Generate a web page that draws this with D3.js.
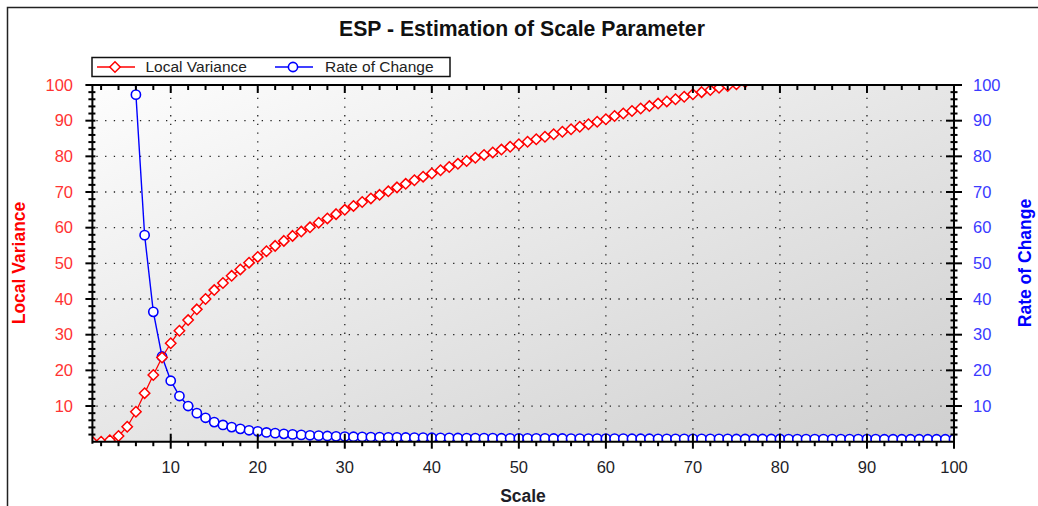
<!DOCTYPE html>
<html>
<head>
<meta charset="utf-8">
<title>ESP - Estimation of Scale Parameter</title>
<script src="https://d3js.org/d3.v7.min.js"></script>
<style>
  body { margin: 0; background: #ffffff; }
  svg { display: block; font-family: Arial, "Liberation Sans", sans-serif; }
</style>
</head>
<body>
<svg id="chart" width="1038" height="506"></svg>
<script>

// scale parameter where each series starts (one point per integer scale)
var varianceStart = 1;
var rocStart = 5;

// Local Variance (red, left axis), scale 1..76
var localVariance = [0, 0, 0.4, 1.6, 4.2, 8.4, 13.6, 18.7, 23.6, 27.6,
    31.1, 34.1, 37.1, 40.0, 42.5, 44.5, 46.5, 48.3, 50.2, 51.8,
    53.4, 54.9, 56.3, 57.7, 58.9, 60.1, 61.4, 62.6, 63.8, 65.0,
    66.1, 67.2, 68.2, 69.2, 70.2, 71.3, 72.3, 73.3, 74.3, 75.2,
    76.1, 77.0, 77.9, 78.7, 79.6, 80.4, 81.1, 81.9, 82.7, 83.4,
    84.1, 84.8, 85.5, 86.2, 86.9, 87.6, 88.3, 89.0, 89.7, 90.4,
    91.3, 92.0, 92.7, 93.4, 94.1, 94.8, 95.4, 96.0, 96.7, 97.4,
    98.0, 98.6, 99.2, 99.7, 100.2, 100.8];

// Rate of Change (blue, right axis), scale 5..100
var rateOfChange = [160, 97.3, 57.9, 36.4, 23.9, 17.1,
    12.8, 10.0, 8.0, 6.7, 5.5, 4.7, 4.1, 3.6, 3.2, 2.9,
    2.6, 2.4, 2.2, 2.05, 1.9, 1.8, 1.7, 1.6, 1.5, 1.45,
    1.4, 1.35, 1.3, 1.27, 1.24, 1.21, 1.18, 1.15, 1.13, 1.11,
    1.09, 1.07, 1.05, 1.03, 1.01, 1.0, 0.99, 0.97, 0.96, 0.95,
    0.94, 0.93, 0.92, 0.91, 0.9, 0.89, 0.88, 0.88, 0.87, 0.86,
    0.85, 0.85, 0.84, 0.83, 0.83, 0.82, 0.81, 0.81, 0.8, 0.8,
    0.79, 0.79, 0.78, 0.78, 0.77, 0.77, 0.76, 0.76, 0.75, 0.75,
    0.74, 0.74, 0.74, 0.73, 0.73, 0.72, 0.72, 0.72, 0.71, 0.71,
    0.71, 0.7, 0.7, 0.7, 0.69, 0.69, 0.69, 0.68, 0.68, 0.68];

var xTicks = [10, 20, 30, 40, 50, 60, 70, 80, 90, 100];
var xMinorTicks = [2, 4, 6, 8, 12, 14, 16, 18, 22, 24, 26, 28, 32, 34, 36, 38, 42, 44, 46, 48,
    52, 54, 56, 58, 62, 64, 66, 68, 72, 74, 76, 78, 82, 84, 86, 88, 92, 94, 96, 98];
var yTicks = [10, 20, 30, 40, 50, 60, 70, 80, 90, 100];
var yMinorTicks = [2, 4, 6, 8, 12, 14, 16, 18, 22, 24, 26, 28, 32, 34, 36, 38, 42, 44, 46, 48,
    52, 54, 56, 58, 62, 64, 66, 68, 72, 74, 76, 78, 82, 84, 86, 88, 92, 94, 96, 98];

var plot = { left: 92.4, right: 954, top: 85, bottom: 441.7 };

var svg = d3.select("#chart");

var x = d3.scaleLinear().domain([1, 100]).range([plot.left, plot.right]);
var yL = d3.scaleLinear().domain([0, 100]).range([plot.bottom, plot.top]);
var yR = d3.scaleLinear().domain([0, 100]).range([plot.bottom, plot.top]);

var varData = localVariance.map(function (v, i) { return { s: varianceStart + i, v: v }; });
var rocData = rateOfChange.map(function (v, i) { return { s: rocStart + i, v: v }; });

// defs: background gradient + clip
var defs = svg.append("defs");
var grad = defs.append("linearGradient").attr("id", "bg")
    .attr("x1", 0).attr("y1", 0).attr("x2", 1).attr("y2", 1);
grad.append("stop").attr("offset", "0%").attr("stop-color", "#fdfdfd");
grad.append("stop").attr("offset", "100%").attr("stop-color", "#cfcfcf");
defs.append("clipPath").attr("id", "plotclip").append("rect")
    .attr("x", plot.left).attr("y", plot.top)
    .attr("width", plot.right - plot.left).attr("height", plot.bottom - plot.top);

// outer frame
svg.append("rect").attr("x", 7.5).attr("y", 7.5).attr("width", 1100).attr("height", 600)
    .attr("fill", "none").attr("stroke", "#222").attr("stroke-width", 1.5);

// title
svg.append("text").attr("x", 522).attr("y", 36).attr("text-anchor", "middle")
    .attr("font-size", 21.2).attr("font-weight", "bold").attr("fill", "#111")
    .text("ESP - Estimation of Scale Parameter");

// plot background
svg.append("rect").attr("x", plot.left).attr("y", plot.top)
    .attr("width", plot.right - plot.left).attr("height", plot.bottom - plot.top)
    .attr("fill", "url(#bg)");

// dotted grid
svg.append("g").selectAll("line").data(yTicks.filter(function (d) { return d < 100; }))
    .enter().append("line")
    .attr("x1", plot.left + 4).attr("x2", plot.right)
    .attr("y1", function (d) { return yL(d); }).attr("y2", function (d) { return yL(d); })
    .attr("stroke", "#222").attr("stroke-width", 1.3).attr("stroke-dasharray", "1.3,7.4");
svg.append("g").selectAll("line").data(xTicks.filter(function (d) { return d < 100; }))
    .enter().append("line")
    .attr("x1", function (d) { return x(d); }).attr("x2", function (d) { return x(d); })
    .attr("y1", plot.top + 4).attr("y2", plot.bottom)
    .attr("stroke", "#222").attr("stroke-width", 1.3).attr("stroke-dasharray", "1.3,7.4");

// series
var clipped = svg.append("g").attr("clip-path", "url(#plotclip)");

var lineRoc = d3.line().x(function (d) { return x(d.s); }).y(function (d) { return yR(d.v); });
var lineVar = d3.line().x(function (d) { return x(d.s); }).y(function (d) { return yL(d.v); });

clipped.append("path").datum(rocData).attr("d", lineRoc)
    .attr("fill", "none").attr("stroke", "#0000ff").attr("stroke-width", 1.4);
clipped.append("g").selectAll("circle").data(rocData).enter().append("circle")
    .attr("cx", function (d) { return x(d.s); }).attr("cy", function (d) { return yR(d.v); })
    .attr("r", 4.6).attr("fill", "#fff").attr("stroke", "#0000ff").attr("stroke-width", 1.6);

clipped.append("path").datum(varData).attr("d", lineVar)
    .attr("fill", "none").attr("stroke", "#ff0000").attr("stroke-width", 1.3);
var diamond = "M0,-5.2L5.2,0L0,5.2L-5.2,0Z";
clipped.append("g").selectAll("path").data(varData).enter().append("path")
    .attr("d", diamond)
    .attr("transform", function (d) { return "translate(" + x(d.s) + "," + yL(d.v) + ")"; })
    .attr("fill", "#fff").attr("stroke", "#ff0000").attr("stroke-width", 1.5);

// axes lines
var ax = svg.append("g").attr("stroke", "#000").attr("stroke-width", 2);
ax.append("line").attr("x1", plot.left).attr("x2", plot.right).attr("y1", plot.bottom).attr("y2", plot.bottom);
ax.append("line").attr("x1", plot.left).attr("x2", plot.right).attr("y1", plot.top).attr("y2", plot.top);
ax.append("line").attr("x1", plot.left).attr("x2", plot.left).attr("y1", plot.top).attr("y2", plot.bottom + 2);
ax.append("line").attr("x1", plot.right).attr("x2", plot.right).attr("y1", plot.top).attr("y2", plot.bottom + 6);

// bottom ticks
ax.append("g").selectAll("line").data(xTicks).enter().append("line")
    .attr("x1", function (d) { return x(d); }).attr("x2", function (d) { return x(d); })
    .attr("y1", plot.bottom - 8).attr("y2", plot.bottom + 7);
ax.append("g").selectAll("line").data(xMinorTicks).enter().append("line")
    .attr("x1", function (d) { return x(d); }).attr("x2", function (d) { return x(d); })
    .attr("y1", plot.bottom).attr("y2", plot.bottom + 4.5);
// top ticks
ax.append("g").selectAll("line").data(xTicks).enter().append("line")
    .attr("x1", function (d) { return x(d); }).attr("x2", function (d) { return x(d); })
    .attr("y1", plot.top).attr("y2", plot.top + 8);
ax.append("g").selectAll("line").data(xMinorTicks).enter().append("line")
    .attr("x1", function (d) { return x(d); }).attr("x2", function (d) { return x(d); })
    .attr("y1", plot.top).attr("y2", plot.top + 5);
// left ticks
ax.append("g").selectAll("line").data(yTicks).enter().append("line")
    .attr("x1", plot.left - 7).attr("x2", plot.left + 3)
    .attr("y1", function (d) { return yL(d); }).attr("y2", function (d) { return yL(d); });
ax.append("g").selectAll("line").data(yMinorTicks).enter().append("line")
    .attr("x1", plot.left - 4).attr("x2", plot.left + 3)
    .attr("y1", function (d) { return yL(d); }).attr("y2", function (d) { return yL(d); });
// right ticks
ax.append("g").selectAll("line").data(yTicks).enter().append("line")
    .attr("x1", plot.right - 8).attr("x2", plot.right + 8)
    .attr("y1", function (d) { return yR(d); }).attr("y2", function (d) { return yR(d); });
ax.append("g").selectAll("line").data(yMinorTicks).enter().append("line")
    .attr("x1", plot.right - 3.5).attr("x2", plot.right + 3.5)
    .attr("y1", function (d) { return yR(d); }).attr("y2", function (d) { return yR(d); });

// tick labels
svg.append("g").selectAll("text").data(xTicks).enter().append("text")
    .attr("x", function (d) { return x(d); }).attr("y", plot.bottom + 31)
    .attr("text-anchor", "middle").attr("font-size", 16.5).attr("fill", "#1e1e28")
    .text(function (d) { return d; });
svg.append("g").selectAll("text").data(yTicks).enter().append("text")
    .attr("x", 73).attr("y", function (d) { return yL(d); }).attr("dy", "0.35em")
    .attr("text-anchor", "end").attr("font-size", 16.5).attr("fill", "#ff3333")
    .text(function (d) { return d; });
svg.append("g").selectAll("text").data(yTicks).enter().append("text")
    .attr("x", 973).attr("y", function (d) { return yR(d); }).attr("dy", "0.35em")
    .attr("text-anchor", "start").attr("font-size", 16.5).attr("fill", "#3a3aff")
    .text(function (d) { return d; });

// axis titles
svg.append("text").attr("transform", "translate(25,263) rotate(-90)")
    .attr("text-anchor", "middle").attr("font-size", 17.5).attr("font-weight", "bold")
    .attr("fill", "#ff0000").text("Local Variance");
svg.append("text").attr("transform", "translate(1031,263) rotate(-90)")
    .attr("text-anchor", "middle").attr("font-size", 17.5).attr("font-weight", "bold")
    .attr("fill", "#0000ff").text("Rate of Change");
svg.append("text").attr("x", 523).attr("y", 502).attr("text-anchor", "middle")
    .attr("font-size", 17.5).attr("font-weight", "bold").attr("fill", "#1e1e28").text("Scale");

// legend
var lg = svg.append("g");
lg.append("rect").attr("x", 92).attr("y", 57.5).attr("width", 358).attr("height", 19)
    .attr("fill", "#fff").attr("stroke", "#111").attr("stroke-width", 1.5);
lg.append("line").attr("x1", 97).attr("x2", 135).attr("y1", 67).attr("y2", 67)
    .attr("stroke", "#ff0000").attr("stroke-width", 1.3);
lg.append("path").attr("d", diamond).attr("transform", "translate(115,67)")
    .attr("fill", "#fff").attr("stroke", "#ff0000").attr("stroke-width", 1.5);
lg.append("text").attr("x", 145.5).attr("y", 72).attr("font-size", 15.5).attr("fill", "#222")
    .text("Local Variance");
lg.append("line").attr("x1", 275).attr("x2", 313).attr("y1", 67).attr("y2", 67)
    .attr("stroke", "#0000ff").attr("stroke-width", 1.4);
lg.append("circle").attr("cx", 293).attr("cy", 67).attr("r", 4.6)
    .attr("fill", "#fff").attr("stroke", "#0000ff").attr("stroke-width", 1.6);
lg.append("text").attr("x", 325).attr("y", 72).attr("font-size", 15.5).attr("fill", "#222")
    .text("Rate of Change");

</script>
</body>
</html>
